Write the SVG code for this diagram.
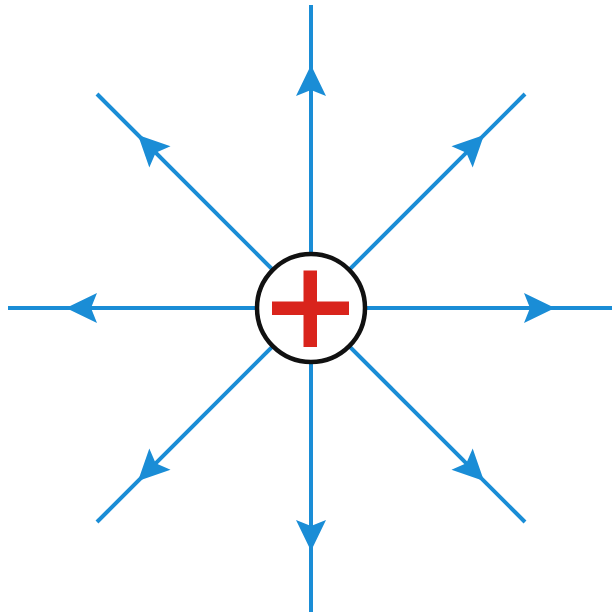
<svg xmlns="http://www.w3.org/2000/svg" width="612" height="613" viewBox="0 0 612 613">
<style>
.ln{stroke:#1a8dd6;stroke-width:4;fill:none}
.ah{fill:#1a8dd6}
</style>
<defs>
<path id="arr" d="M0,0 L-31,-15 L-25,0 L-31,15 Z"/>
</defs>
<rect width="612" height="613" fill="#fff"/>
<g id="connectors">
<line class="ln" x1="311" y1="308" x2="311" y2="5"/>
<line class="ln" x1="311" y1="308" x2="311" y2="612"/>
<line class="ln" x1="311" y1="308" x2="8" y2="308"/>
<line class="ln" x1="311" y1="308" x2="612" y2="308"/>
<line class="ln" x1="311" y1="308" x2="97" y2="94"/>
<line class="ln" x1="311" y1="308" x2="525" y2="94"/>
<line class="ln" x1="311" y1="308" x2="97" y2="522"/>
<line class="ln" x1="311" y1="308" x2="525" y2="522"/>
<use href="#arr" class="ah" transform="translate(311,65) rotate(-90)"/>
<use href="#arr" class="ah" transform="translate(311,551) rotate(90)"/>
<use href="#arr" class="ah" transform="translate(66,308) rotate(180)"/>
<use href="#arr" class="ah" transform="translate(555,308)"/>
<use href="#arr" class="ah" transform="translate(138,135) rotate(-135)"/>
<use href="#arr" class="ah" transform="translate(484,135) rotate(-45)"/>
<use href="#arr" class="ah" transform="translate(138,481) rotate(135)"/>
<use href="#arr" class="ah" transform="translate(484,481) rotate(45)"/>
</g>
<g id="charge">
<circle cx="311" cy="308" r="54" fill="#fff" stroke="#111" stroke-width="4.5"/>
<rect x="272" y="301.5" width="77" height="13.5" fill="#d9241c"/>
<rect x="303.5" y="270.5" width="13.5" height="76.5" fill="#d9241c"/>
</g>
</svg>
